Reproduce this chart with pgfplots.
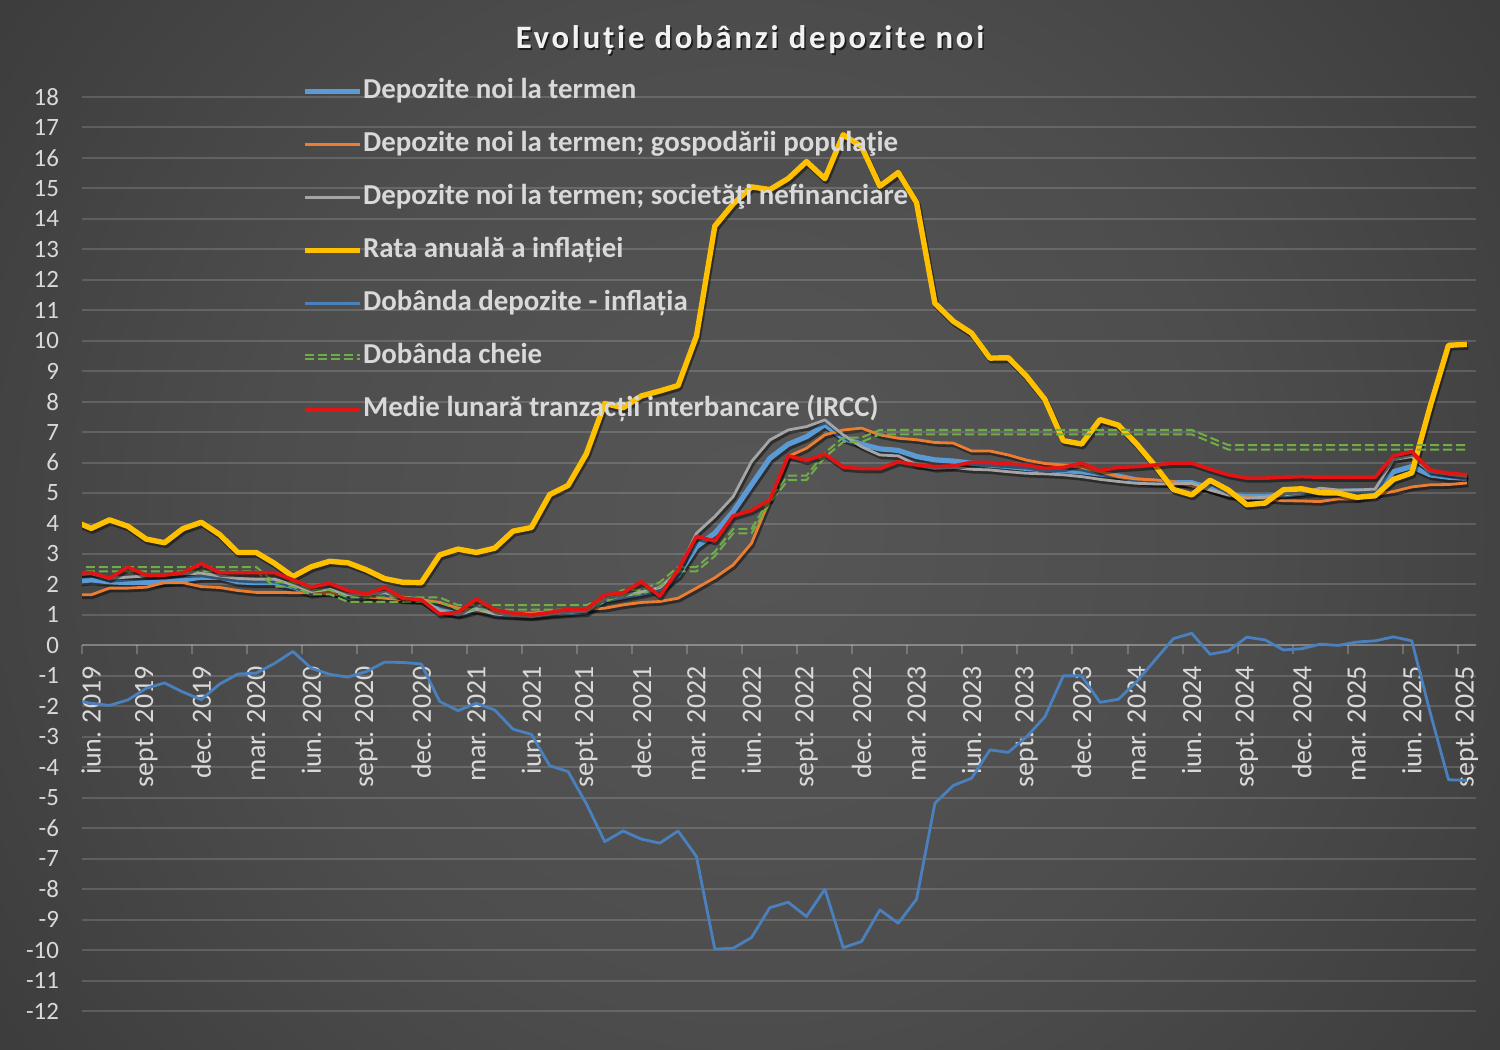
\documentclass[border=0pt]{standalone}
\usepackage{fontspec}
\setmainfont{Carlito}
\newfontfamily\titlefont[LetterSpace=8.5]{Carlito}
\usepackage{pgfplots}
\pgfplotsset{compat=1.18}
\usepackage{pgfplotstable}

\definecolor{depc}{RGB}{91,155,213}
\definecolor{popc}{RGB}{237,125,49}
\definecolor{socc}{RGB}{165,165,165}
\definecolor{inflc}{RGB}{255,192,0}
\definecolor{diffc}{RGB}{74,128,189}
\definecolor{cheiec}{RGB}{112,173,71}
\definecolor{irccc}{RGB}{228,20,20}
\definecolor{txtc}{RGB}{217,217,217}
\definecolor{bgA}{RGB}{86,86,86}
\definecolor{bgB}{RGB}{77,77,77}
\definecolor{bgC}{RGB}{56,56,56}
\definecolor{bgD}{RGB}{40,40,40}
\definecolor{bgE}{RGB}{33,33,33}

\pgfdeclareradialshading{bgshade}{\pgfpoint{0bp}{0bp}}{color(0bp)=(bgA); color(8bp)=(bgB); color(17bp)=(bgC); color(25bp)=(bgD); color(31bp)=(bgE); color(50bp)=(bgE)}

\pgfplotsset{cheieleg/.style={legend image code/.code={\draw[##1, yshift=1.1bp] (0bp,0bp) -- (27.5bp,0bp); \draw[##1, yshift=-1.1bp] (0bp,0bp) -- (27.5bp,0bp);}}}

\pgfplotstableread{
x dep pop soc infl diff cheie ircc
-1 2.09 1.66 2.31 4.10 -1.79 2.5 2.37
0 2.15 1.66 2.35 3.84 -1.90 2.5 2.39
1 2.09 1.88 2.20 4.12 -1.97 2.5 2.20
2 2.06 1.88 2.24 3.91 -1.79 2.5 2.57
3 2.06 1.91 2.28 3.49 -1.41 2.5 2.31
4 2.09 2.06 2.31 3.37 -1.23 2.5 2.31
5 2.15 2.06 2.35 3.83 -1.53 2.5 2.39
6 2.24 1.93 2.37 4.04 -1.78 2.5 2.68
7 2.24 1.90 2.28 3.64 -1.27 2.5 2.39
8 2.09 1.80 2.20 3.05 -0.94 2.5 2.39
9 2.06 1.74 2.17 3.05 -0.91 2.5 2.39
10 2.06 1.74 2.17 2.69 -0.59 2.0 2.39
11 1.93 1.73 1.99 2.26 -0.20 2.0 2.15
12 1.71 1.73 1.77 2.58 -0.75 1.75 1.91
13 1.80 1.71 1.84 2.76 -0.95 1.75 2.04
14 1.60 1.66 1.66 2.71 -1.04 1.5 1.80
15 1.60 1.58 1.66 2.48 -0.86 1.5 1.69
16 1.71 1.55 1.73 2.19 -0.55 1.5 1.90
17 1.53 1.50 1.58 2.07 -0.56 1.5 1.55
18 1.50 1.50 1.52 2.06 -0.61 1.5 1.50
19 1.14 1.41 1.14 2.97 -1.84 1.5 1.03
20 1.03 1.22 1.00 3.16 -2.14 1.25 1.09
21 1.17 1.13 1.19 3.05 -1.90 1.25 1.52
22 1.03 1.09 1.03 3.19 -2.12 1.25 1.17
23 1.00 1.06 0.98 3.75 -2.75 1.25 1.06
24 0.97 1.06 0.95 3.87 -2.92 1.25 1.00
25 1.03 1.11 1.02 4.95 -3.95 1.25 1.08
26 1.08 1.17 1.07 5.25 -4.14 1.25 1.19
27 1.11 1.19 1.12 6.29 -5.20 1.25 1.19
28 1.49 1.22 1.52 7.94 -6.44 1.5 1.66
29 1.60 1.33 1.62 7.80 -6.09 1.75 1.73
30 1.71 1.41 1.75 8.19 -6.36 1.75 2.09
31 1.84 1.44 1.90 8.35 -6.49 2.0 1.62
32 2.31 1.55 2.42 8.53 -6.09 2.5 2.48
33 3.24 1.88 3.68 10.15 -6.93 2.5 3.57
34 3.68 2.22 4.23 13.76 -9.97 3.0 3.43
35 4.39 2.64 4.88 14.49 -9.94 3.75 4.25
36 5.27 3.35 6.03 15.05 -9.59 3.75 4.43
37 6.14 4.80 6.74 14.96 -8.61 4.75 4.78
38 6.60 6.20 7.07 15.32 -8.43 5.5 6.22
39 6.85 6.47 7.18 15.88 -8.90 5.5 6.07
40 7.25 6.91 7.40 15.32 -8.00 6.25 6.28
41 6.80 7.07 6.91 16.76 -9.92 6.75 5.85
42 6.60 7.13 6.52 16.37 -9.72 6.75 5.80
43 6.45 6.91 6.25 15.07 -8.68 7.0 5.80
44 6.40 6.80 6.22 15.52 -9.12 7.0 6.03
45 6.20 6.75 5.92 14.53 -8.33 7.0 5.92
46 6.09 6.66 5.81 11.23 -5.18 7.0 5.87
47 6.05 6.64 5.84 10.64 -4.60 7.0 5.89
48 5.98 6.38 5.78 10.25 -4.36 7.0 6.01
49 5.92 6.38 5.76 9.43 -3.43 7.0 6.00
50 5.87 6.25 5.70 9.44 -3.51 7.0 5.96
51 5.81 6.08 5.65 8.83 -3.00 7.0 5.92
52 5.76 5.97 5.63 8.07 -2.34 7.0 5.81
53 5.74 5.92 5.60 6.72 -1.00 7.0 5.84
54 5.70 5.84 5.54 6.61 -1.00 7.0 5.98
55 5.63 5.70 5.45 7.41 -1.87 7.0 5.74
56 5.56 5.54 5.38 7.23 -1.77 7.0 5.84
57 5.43 5.46 5.32 6.61 -1.19 7.0 5.87
58 5.38 5.43 5.30 5.90 -0.48 7.0 5.92
59 5.34 5.38 5.30 5.12 0.22 7.0 5.98
60 5.34 5.23 5.32 4.94 0.40 7.0 5.98
61 5.16 5.10 5.10 5.42 -0.29 6.75 5.78
62 4.94 4.94 4.94 5.10 -0.18 6.5 5.60
63 4.88 4.86 4.83 4.62 0.27 6.5 5.49
64 4.88 4.80 4.86 4.67 0.18 6.5 5.49
65 4.94 4.75 4.94 5.11 -0.15 6.5 5.52
66 5.00 4.74 5.01 5.14 -0.11 6.5 5.54
67 5.05 4.72 5.16 5.01 0.04 6.5 5.52
68 5.05 4.81 5.10 5.00 0.00 6.5 5.52
69 5.07 4.81 5.10 4.86 0.11 6.5 5.52
70 5.05 4.95 5.13 4.91 0.15 6.5 5.52
71 5.70 5.05 6.10 5.45 0.28 6.5 6.22
72 5.87 5.20 6.20 5.66 0.15 6.5 6.36
73 5.60 5.27 5.70 7.84 -2.20 6.5 5.76
74 5.52 5.28 5.62 9.85 -4.41 6.5 5.65
75 5.49 5.33 5.54 9.88 -4.43 6.5 5.60
}\data

\begin{document}
\begin{tikzpicture}
\useasboundingbox (0,0) rectangle (750bp,525bp);
\begin{scope}
\clip (0,0) rectangle (750bp,525bp);
\shade[shading=bgshade] (-385bp,-497.5bp) rectangle (1135bp,1022.5bp);
\end{scope}
\node[font=\titlefont\bfseries\fontsize{16.4}{19}\selectfont, text=black, opacity=0.6] at (375.8bp,504.2bp) {Evoluție dobânzi depozite noi};
\node[font=\titlefont\bfseries\fontsize{16.4}{19}\selectfont, text=white!95!black] at (375bp,505bp) {Evoluție dobânzi depozite noi};
\begin{axis}[
  at={(41bp,19.5bp)}, anchor=south west,
  scale only axis, width=697bp, height=457bp,
  xmin=-0.5, xmax=75.5, ymin=-12, ymax=18,
  axis x line*=middle, axis y line*=left,
  hide obscured x ticks=false, hide obscured y ticks=false,
  y axis line style={draw=none},
  x axis line style={draw=white, draw opacity=0.2, line width=1bp},
  xtick={0,3,...,75},
  xticklabels={iun. 2019,sept. 2019,dec. 2019,mar. 2020,iun. 2020,sept. 2020,dec. 2020,mar. 2021,iun. 2021,sept. 2021,dec. 2021,mar. 2022,iun. 2022,sept. 2022,dec. 2022,mar. 2023,iun. 2023,sept. 2023,dec. 2023,mar. 2024,iun. 2024,sept. 2024,dec. 2024,mar. 2025,iun. 2025,sept. 2025},
  minor xtick={-0.5,2.5,...,74.5},
  ytick={-12,-11,...,18},
  yticklabels={-12,-11,-10,-9,-8,-7,-6,-5,-4,-3,-2,-1,0,1,2,3,4,5,6,7,8,9,10,11,12,13,14,15,16,17,18},
  ymajorgrids,
  major grid style={draw=white, draw opacity=0.15, line width=1bp},
  major x tick style={draw=none},
  minor x tick style={draw=white, draw opacity=0.22, line width=1bp},
  ytick style={draw=none},
  minor tick length=4.5bp, major tick length=0pt,
  xtick align=outside,
  xticklabel shift=7bp, yticklabel shift=8bp,
  tick label style={text=txtc},
  xticklabel style={font=\fontsize{14}{16}\selectfont, rotate=90, anchor=east},
  yticklabel style={font=\fontsize{12.5}{14}\selectfont, anchor=east},
  legend style={at={(0.158,1.021)}, anchor=north west, draw=none, fill=none, inner sep=0pt,
    font=\bfseries\fontsize{14.5}{17}\selectfont, text=txtc, row sep=13bp, column sep=0bp,
    nodes={inner sep=0pt, text height=10bp, text depth=3.5bp}},
  legend cell align=left,
  legend image code/.code={\draw[#1] (0bp,0bp) -- (27.5bp,0bp);},
  every axis plot/.append style={line join=round},
  shadowline/.style={black, opacity=0.45, xshift=0.7bp, yshift=-1.2bp, forget plot},
]
\addplot[shadowline, line width=3bp] table[x=x,y=dep]{\data};
\addplot[depc, line width=2.6bp] table[x=x,y=dep]{\data};
\addlegendentry{Depozite noi la termen}
\addplot[shadowline, line width=1.8bp] table[x=x,y=pop]{\data};
\addplot[popc, line width=1.4bp] table[x=x,y=pop]{\data};
\addlegendentry{Depozite noi la termen; gospodării populaţie}
\addplot[shadowline, line width=1.8bp] table[x=x,y=soc]{\data};
\addplot[socc, line width=1.4bp] table[x=x,y=soc]{\data};
\addlegendentry{Depozite noi la termen; societăţi nefinanciare}
\addplot[shadowline, line width=3bp] table[x=x,y=infl]{\data};
\addplot[inflc, line width=2.7bp] table[x=x,y=infl]{\data};
\addlegendentry{Rata anuală a inflației}
\addplot[diffc, line width=1.4bp] table[x=x,y=diff]{\data};
\addlegendentry{Dobânda depozite - inflația}
\addlegendimage{cheiec, line width=1bp, dash pattern=on 4.5bp off 2bp, cheieleg}
\addlegendentry{Dobânda cheie}
\addplot[cheiec, line width=1bp, dash pattern=on 4.5bp off 2bp, yshift=1.1bp, forget plot] table[x=x,y=cheie]{\data};
\addplot[cheiec, line width=1bp, dash pattern=on 4.5bp off 2bp, yshift=-1.1bp, forget plot] table[x=x,y=cheie]{\data};
\addplot[shadowline, line width=2.2bp] table[x=x,y=ircc]{\data};
\addplot[irccc, line width=1.8bp] table[x=x,y=ircc]{\data};
\addlegendentry{Medie lunară tranzacții interbancare (IRCC)}
\end{axis}
\end{tikzpicture}
\end{document}
